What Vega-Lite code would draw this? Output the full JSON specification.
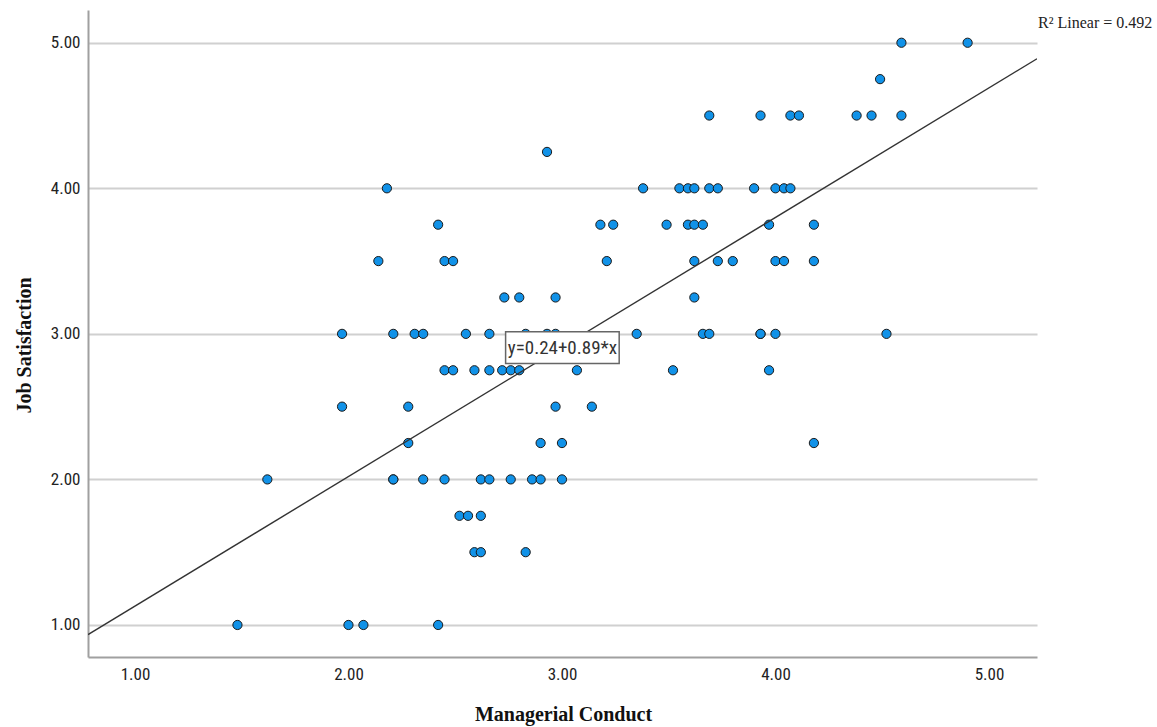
{
  "$schema": "https://vega.github.io/schema/vega-lite/v6.json",
  "width": 949,
  "height": 647,
  "autosize": {"type": "none"},
  "padding": {"left": 88, "top": 10, "right": 120, "bottom": 70},
  "background": "white",
  "config": {"view": {"stroke": null}},
  "datasets": {
    "points": [
      {"conduct": 4.59, "satisfaction": 5.0}, {"conduct": 4.90, "satisfaction": 5.0},
      {"conduct": 4.49, "satisfaction": 4.75},
      {"conduct": 3.69, "satisfaction": 4.5}, {"conduct": 3.93, "satisfaction": 4.5}, {"conduct": 4.07, "satisfaction": 4.5}, {"conduct": 4.11, "satisfaction": 4.5}, {"conduct": 4.38, "satisfaction": 4.5}, {"conduct": 4.45, "satisfaction": 4.5}, {"conduct": 4.59, "satisfaction": 4.5},
      {"conduct": 2.93, "satisfaction": 4.25},
      {"conduct": 2.18, "satisfaction": 4.0}, {"conduct": 3.38, "satisfaction": 4.0}, {"conduct": 3.55, "satisfaction": 4.0}, {"conduct": 3.59, "satisfaction": 4.0}, {"conduct": 3.62, "satisfaction": 4.0}, {"conduct": 3.69, "satisfaction": 4.0}, {"conduct": 3.73, "satisfaction": 4.0}, {"conduct": 3.90, "satisfaction": 4.0}, {"conduct": 4.00, "satisfaction": 4.0}, {"conduct": 4.04, "satisfaction": 4.0}, {"conduct": 4.07, "satisfaction": 4.0},
      {"conduct": 2.42, "satisfaction": 3.75}, {"conduct": 3.18, "satisfaction": 3.75}, {"conduct": 3.24, "satisfaction": 3.75}, {"conduct": 3.49, "satisfaction": 3.75}, {"conduct": 3.59, "satisfaction": 3.75}, {"conduct": 3.62, "satisfaction": 3.75}, {"conduct": 3.66, "satisfaction": 3.75}, {"conduct": 3.97, "satisfaction": 3.75}, {"conduct": 4.18, "satisfaction": 3.75},
      {"conduct": 2.14, "satisfaction": 3.5}, {"conduct": 2.45, "satisfaction": 3.5}, {"conduct": 2.49, "satisfaction": 3.5}, {"conduct": 3.21, "satisfaction": 3.5}, {"conduct": 3.62, "satisfaction": 3.5}, {"conduct": 3.73, "satisfaction": 3.5}, {"conduct": 3.80, "satisfaction": 3.5}, {"conduct": 4.00, "satisfaction": 3.5}, {"conduct": 4.04, "satisfaction": 3.5}, {"conduct": 4.18, "satisfaction": 3.5},
      {"conduct": 2.73, "satisfaction": 3.25}, {"conduct": 2.80, "satisfaction": 3.25}, {"conduct": 2.97, "satisfaction": 3.25}, {"conduct": 3.62, "satisfaction": 3.25},
      {"conduct": 1.97, "satisfaction": 3.0}, {"conduct": 2.21, "satisfaction": 3.0}, {"conduct": 2.31, "satisfaction": 3.0}, {"conduct": 2.35, "satisfaction": 3.0}, {"conduct": 2.55, "satisfaction": 3.0}, {"conduct": 2.66, "satisfaction": 3.0}, {"conduct": 2.83, "satisfaction": 3.0}, {"conduct": 2.93, "satisfaction": 3.0}, {"conduct": 2.97, "satisfaction": 3.0}, {"conduct": 3.35, "satisfaction": 3.0}, {"conduct": 3.66, "satisfaction": 3.0}, {"conduct": 3.69, "satisfaction": 3.0}, {"conduct": 3.93, "satisfaction": 3.0}, {"conduct": 3.93, "satisfaction": 3.0}, {"conduct": 4.00, "satisfaction": 3.0}, {"conduct": 4.52, "satisfaction": 3.0},
      {"conduct": 2.45, "satisfaction": 2.75}, {"conduct": 2.49, "satisfaction": 2.75}, {"conduct": 2.59, "satisfaction": 2.75}, {"conduct": 2.66, "satisfaction": 2.75}, {"conduct": 2.72, "satisfaction": 2.75}, {"conduct": 2.76, "satisfaction": 2.75}, {"conduct": 2.80, "satisfaction": 2.75}, {"conduct": 3.07, "satisfaction": 2.75}, {"conduct": 3.52, "satisfaction": 2.75}, {"conduct": 3.97, "satisfaction": 2.75},
      {"conduct": 1.97, "satisfaction": 2.5}, {"conduct": 2.28, "satisfaction": 2.5}, {"conduct": 2.97, "satisfaction": 2.5}, {"conduct": 3.14, "satisfaction": 2.5},
      {"conduct": 2.28, "satisfaction": 2.25}, {"conduct": 2.90, "satisfaction": 2.25}, {"conduct": 3.00, "satisfaction": 2.25}, {"conduct": 4.18, "satisfaction": 2.25},
      {"conduct": 1.62, "satisfaction": 2.0}, {"conduct": 2.21, "satisfaction": 2.0}, {"conduct": 2.21, "satisfaction": 2.0}, {"conduct": 2.35, "satisfaction": 2.0}, {"conduct": 2.45, "satisfaction": 2.0}, {"conduct": 2.62, "satisfaction": 2.0}, {"conduct": 2.66, "satisfaction": 2.0}, {"conduct": 2.76, "satisfaction": 2.0}, {"conduct": 2.86, "satisfaction": 2.0}, {"conduct": 2.90, "satisfaction": 2.0}, {"conduct": 3.00, "satisfaction": 2.0},
      {"conduct": 2.52, "satisfaction": 1.75}, {"conduct": 2.56, "satisfaction": 1.75}, {"conduct": 2.62, "satisfaction": 1.75},
      {"conduct": 2.59, "satisfaction": 1.5}, {"conduct": 2.62, "satisfaction": 1.5}, {"conduct": 2.83, "satisfaction": 1.5},
      {"conduct": 1.48, "satisfaction": 1.0}, {"conduct": 2.00, "satisfaction": 1.0}, {"conduct": 2.07, "satisfaction": 1.0}, {"conduct": 2.42, "satisfaction": 1.0}
    ],
    "fitline": [
      {"conduct": 0.78, "satisfaction": 0.934},
      {"conduct": 5.225, "satisfaction": 4.890}
    ],
    "eqbox": [
      {"x1": 2.736, "x2": 3.268, "y1": 2.797, "y2": 3.014, "cx": 3.002, "cy": 2.906, "label": "y=0.24+0.89*x"}
    ],
    "r2": [
      {"conduct": 5.225, "satisfaction": 5.135, "label": "R² Linear = 0.492"}
    ]
  },
  "layer": [
    {
      "data": {"name": "points"},
      "mark": {"type": "point", "filled": true, "shape": "circle", "size": 85, "fill": "#1192e8", "stroke": "#1a1a1a", "strokeWidth": 1, "opacity": 1, "fillOpacity": 1, "clip": false},
      "encoding": {
        "x": {
          "field": "conduct", "type": "quantitative",
          "scale": {"domain": [0.78, 5.225], "nice": false, "zero": false},
          "axis": {
            "title": "Managerial Conduct",
            "values": [1, 2, 3, 4, 5], "format": ".2f",
            "grid": false, "ticks": false, "tickSize": 0,
            "domainColor": "#a0a0a0", "domainWidth": 2,
            "labelFont": "Liberation Sans Narrow, Roboto Condensed, Liberation Sans", "labelFontSize": 17, "labelColor": "#222",
            "labelPadding": 9, "labelFlush": false,
            "titleFont": "Liberation Serif", "titleFontSize": 20, "titleFontWeight": "bold", "titleColor": "#111",
            "titleX": 475, "titleY": 63, "titleBaseline": "alphabetic", "titleAlign": "center"
          }
        },
        "y": {
          "field": "satisfaction", "type": "quantitative",
          "scale": {"domain": [0.78, 5.225], "nice": false, "zero": false},
          "axis": {
            "title": "Job Satisfaction",
            "values": [1, 2, 3, 4, 5], "format": ".2f",
            "grid": true, "gridColor": "#d0d0d0", "gridWidth": 2,
            "ticks": false, "tickSize": 0,
            "domainColor": "#a0a0a0", "domainWidth": 2,
            "labelFont": "Liberation Sans Narrow, Roboto Condensed, Liberation Sans", "labelFontSize": 17, "labelColor": "#222",
            "labelPadding": 8, "labelFlush": false,
            "titleFont": "Liberation Serif", "titleFontSize": 20, "titleFontWeight": "bold", "titleColor": "#111",
            "titleAngle": 270, "titleX": -58, "titleY": 335, "titleBaseline": "alphabetic", "titleAlign": "center"
          }
        }
      }
    },
    {
      "data": {"name": "fitline"},
      "mark": {"type": "line", "color": "#333333", "strokeWidth": 1.4, "clip": true},
      "encoding": {
        "x": {"field": "conduct", "type": "quantitative"},
        "y": {"field": "satisfaction", "type": "quantitative"}
      }
    },
    {
      "data": {"name": "eqbox"},
      "mark": {"type": "rect", "fill": "white", "stroke": "#666666", "strokeWidth": 1.5},
      "encoding": {
        "x": {"field": "x1", "type": "quantitative"},
        "x2": {"field": "x2"},
        "y": {"field": "y1", "type": "quantitative"},
        "y2": {"field": "y2"}
      }
    },
    {
      "data": {"name": "eqbox"},
      "mark": {"type": "text", "font": "Liberation Sans Narrow, Roboto Condensed, Liberation Sans", "fontSize": 19, "color": "#333333", "align": "center", "baseline": "middle"},
      "encoding": {
        "x": {"field": "cx", "type": "quantitative"},
        "y": {"field": "cy", "type": "quantitative"},
        "text": {"field": "label"}
      }
    },
    {
      "data": {"name": "r2"},
      "mark": {"type": "text", "font": "Liberation Serif", "fontSize": 16, "color": "#222222", "align": "left", "baseline": "middle", "dx": 1, "clip": false},
      "encoding": {
        "x": {"field": "conduct", "type": "quantitative"},
        "y": {"field": "satisfaction", "type": "quantitative"},
        "text": {"field": "label"}
      }
    }
  ]
}
